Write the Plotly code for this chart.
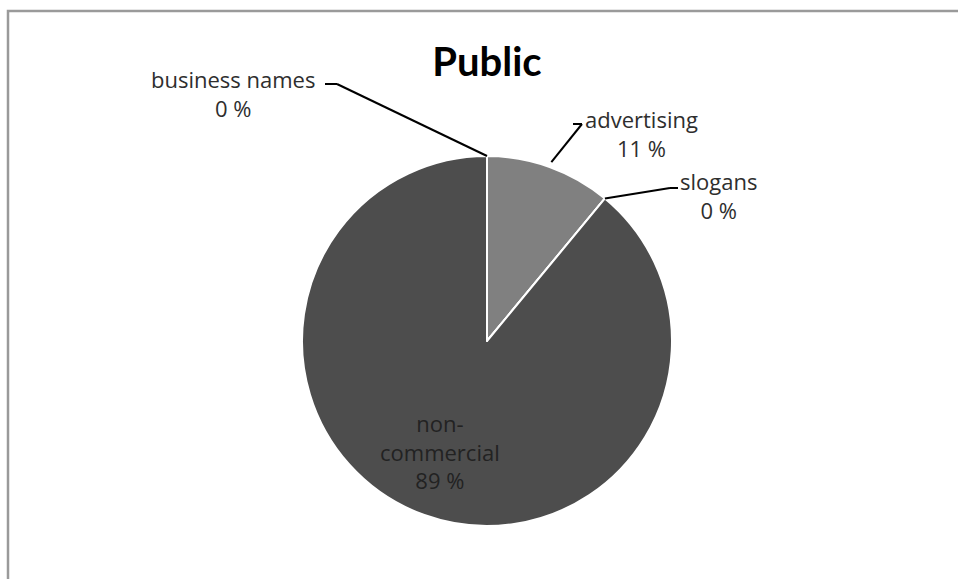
import math
import plotly.graph_objects as go

# Share of public signage by text type (percent)
categories = ["advertising", "slogans", "non-commercial", "business names"]
shares = [11, 0, 89, 0]
slice_colors = ["#808080", "#6a6a6a", "#4d4d4d", "#5a5a5a"]

W, H = 958, 579
CX, CY, R = 487, 341, 185          # pie centre and radius in pixels


def px(x):
    return x / W


def py(y):
    return 1 - y / H


fig = go.Figure(
    go.Pie(
        labels=categories,
        values=shares,
        sort=False,
        direction="clockwise",
        rotation=0,
        marker=dict(colors=slice_colors, line=dict(color="white", width=2)),
        textinfo="none",
        hoverinfo="label+percent",
        showlegend=False,
        domain=dict(x=[px(CX - R), px(CX + R)], y=[py(CY + R), py(CY - R)]),
    )
)

# Angles (degrees clockwise from 12 o'clock) of each slice's start / middle
total = sum(shares)
starts, mids = [], []
acc = 0.0
for v in shares:
    starts.append(acc / total * 360)
    mids.append((acc + v / 2) / total * 360)
    acc += v


def edge(angle_deg, r=R):
    a = math.radians(angle_deg)
    return CX + r * math.sin(a), CY - r * math.cos(a)


# Label placement: (text centre x, text centre y, elbow x, elbow y, line end x)
label_layout = {
    "business names": dict(cx=233, cy=93, anchor=("end", 337, 84, 325), ang=360.0, rr=R),
    "advertising": dict(cx=641, cy=134, anchor=("mid", 582, 124, 573), ang=None, rr=R + 5),
    "slogans": dict(cx=718, cy=196, anchor=("start", 670, 188, 678), ang=None, rr=R),
}

label_font = dict(family="Open Sans", size=22, color="#2e2e2e")
annotations = []
shapes = []

for i, name in enumerate(categories):
    text = f"{name}<br>{shares[i]} %"
    if name == "non-commercial":
        annotations.append(dict(
            x=px(440), y=py(451), xref="paper", yref="paper",
            text="non-<br>commercial<br>" + f"{shares[i]} %",
            showarrow=False, xanchor="center", yanchor="middle",
            font=dict(family="Open Sans", size=22, color="#222222"),
        ))
        continue
    lay = label_layout[name]
    annotations.append(dict(
        x=px(lay["cx"]), y=py(lay["cy"]), xref="paper", yref="paper",
        text=text, showarrow=False, xanchor="center", yanchor="middle",
        font=label_font,
    ))
    if lay["ang"] is not None:
        ang = lay["ang"]
    elif shares[i] > 0:
        ang = mids[i]
    else:
        ang = starts[i]
    ex, ey = edge(ang, lay["rr"])
    _, bx, by, tx = lay["anchor"]
    shapes.append(dict(type="line", xref="paper", yref="paper",
                       x0=px(ex), y0=py(ey), x1=px(bx), y1=py(by),
                       line=dict(color="#000000", width=2)))
    shapes.append(dict(type="line", xref="paper", yref="paper",
                       x0=px(bx), y0=py(by), x1=px(tx), y1=py(by),
                       line=dict(color="#000000", width=2)))

# Chart frame (top and left edges)
shapes.append(dict(type="path", xref="paper", yref="paper",
                   path=f"M {px(8)} {py(579)} L {px(8)} {py(11)} L {px(958)} {py(11)}",
                   line=dict(color="#9a9a9a", width=2.5)))

fig.update_layout(
    width=W, height=H,
    margin=dict(l=0, r=0, t=0, b=0),
    paper_bgcolor="white",
    plot_bgcolor="white",
    title=dict(text="<b>Public</b>", x=px(487), y=py(62), xanchor="center", yanchor="middle",
               font=dict(family="Lato", size=40, color="#000000")),
    annotations=annotations,
    shapes=shapes,
)

fig.write_html("out.html")
